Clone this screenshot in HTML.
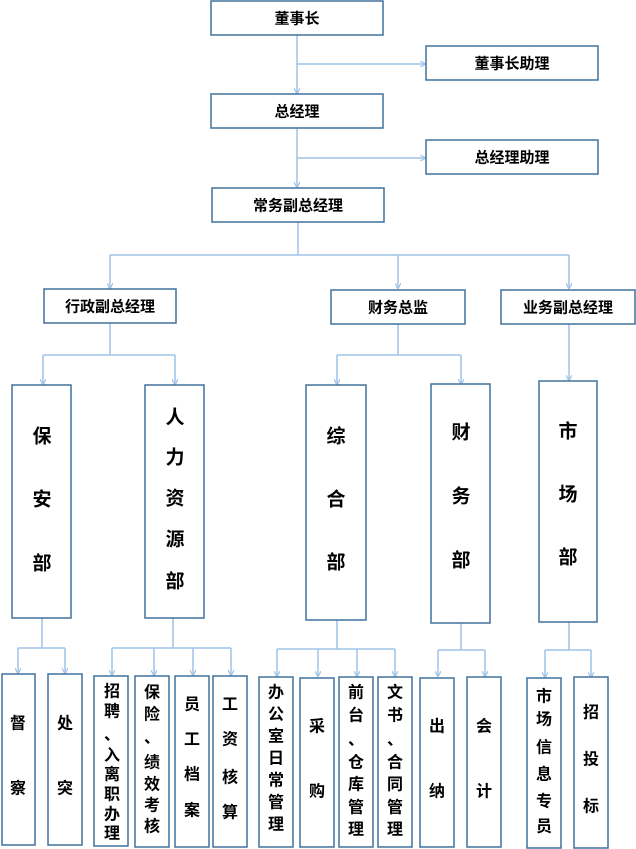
<!DOCTYPE html>
<html><head><meta charset="utf-8"><style>
html,body{margin:0;padding:0;background:#fff;width:636px;height:849px;overflow:hidden}
svg{display:block}
.b{fill:#fff;stroke:#41719c;stroke-width:1.5}
.l{stroke:#9dc3e6;stroke-width:1.5;fill:none}
.a{fill:#9dc3e6}
text{font-family:"Liberation Sans","Noto Sans CJK SC",sans-serif;font-weight:bold;fill:#000;text-anchor:middle;dominant-baseline:central}
.t{font-size:15px}
.big{font-size:19px}
.s{font-size:16px}
</style></head><body>
<svg width="636" height="849" viewBox="0 0 636 849">
<defs><marker id="m" markerWidth="6" markerHeight="6" refX="5" refY="3" orient="auto" markerUnits="userSpaceOnUse"><path d="M0,0 L6,3 L0,6" fill="none" stroke="#9dc3e6" stroke-width="1.2"/></marker></defs>
<!-- connectors -->
<g class="l">
<path d="M297,35 V93" marker-end="url(#m)"/>
<path d="M297,64 H425" marker-end="url(#m)"/>
<path d="M297,128 V187" marker-end="url(#m)"/>
<path d="M297,158 H425" marker-end="url(#m)"/>
<path d="M298,222 V255"/>
<path d="M110,255 H569"/>
<path d="M110,255 V288" marker-end="url(#m)"/>
<path d="M398,255 V288" marker-end="url(#m)"/>
<path d="M569,255 V288" marker-end="url(#m)"/>
<path d="M110,323 V355"/><path d="M43,355 H175"/>
<path d="M43,355 V384" marker-end="url(#m)"/><path d="M175,355 V384" marker-end="url(#m)"/>
<path d="M398,323 V355"/><path d="M337,355 H461"/>
<path d="M337,355 V384" marker-end="url(#m)"/><path d="M461,355 V384" marker-end="url(#m)"/>
<path d="M569,323 V380" marker-end="url(#m)"/>
<path d="M42,618 V648"/><path d="M18,648 H65"/>
<path d="M18,648 V673" marker-end="url(#m)"/><path d="M65,648 V673" marker-end="url(#m)"/>
<path d="M173,618 V648"/><path d="M112,648 H231"/>
<path d="M112,648 V675" marker-end="url(#m)"/><path d="M154,648 V675" marker-end="url(#m)"/>
<path d="M193,648 V675" marker-end="url(#m)"/><path d="M231,648 V675" marker-end="url(#m)"/>
<path d="M337,620 V649"/><path d="M277,649 H395"/>
<path d="M277,649 V676" marker-end="url(#m)"/><path d="M318,649 V676" marker-end="url(#m)"/>
<path d="M357,649 V676" marker-end="url(#m)"/><path d="M395,649 V676" marker-end="url(#m)"/>
<path d="M461,623 V650"/><path d="M438,650 H485"/>
<path d="M438,650 V676" marker-end="url(#m)"/><path d="M485,650 V676" marker-end="url(#m)"/>
<path d="M569,622 V650"/><path d="M545,650 H591"/>
<path d="M545,650 V677" marker-end="url(#m)"/><path d="M591,650 V677" marker-end="url(#m)"/>
</g>
<!-- top boxes -->
<rect class="b" x="211" y="1" width="172" height="34"/><text class="t" x="297" y="19">董事长</text>
<rect class="b" x="426" y="46" width="172" height="34"/><text class="t" x="512" y="64">董事长助理</text>
<rect class="b" x="211" y="94" width="172" height="34"/><text class="t" x="297" y="112">总经理</text>
<rect class="b" x="426" y="140" width="172" height="34"/><text class="t" x="512" y="158">总经理助理</text>
<rect class="b" x="212" y="188" width="172" height="34"/><text class="t" x="298" y="206">常务副总经理</text>
<rect class="b" x="44" y="289" width="132" height="34"/><text class="t" x="110" y="307">行政副总经理</text>
<rect class="b" x="331" y="290" width="134" height="34"/><text class="t" x="398" y="308">财务总监</text>
<rect class="b" x="501" y="290" width="134" height="34"/><text class="t" x="568" y="308">业务副总经理</text>
<!-- level 3 -->
<rect class="b" x="12" y="385" width="59" height="233"/>
<text class="big" x="42" y="437">保</text><text class="big" x="42" y="500">安</text><text class="big" x="42" y="564">部</text>
<rect class="b" x="145" y="385" width="59" height="233"/>
<text class="big" x="175" y="418">人</text><text class="big" x="175" y="458">力</text><text class="big" x="175" y="499">资</text><text class="big" x="175" y="540">源</text><text class="big" x="175" y="582">部</text>
<rect class="b" x="306" y="385" width="60" height="235"/>
<text class="big" x="336" y="437">综</text><text class="big" x="336" y="500">合</text><text class="big" x="336" y="563">部</text>
<rect class="b" x="431" y="384" width="59" height="239"/>
<text class="big" x="461" y="433">财</text><text class="big" x="461" y="497">务</text><text class="big" x="461" y="561">部</text>
<rect class="b" x="539" y="381" width="58" height="241"/>
<text class="big" x="568" y="432">市</text><text class="big" x="568" y="495">场</text><text class="big" x="568" y="558">部</text>
<!-- level 4 -->
<rect class="b" x="2" y="674" width="33" height="171"/><text class="s" x="18" y="724">督</text><text class="s" x="18" y="789">察</text>
<rect class="b" x="48" y="674" width="34" height="171"/><text class="s" x="65" y="724">处</text><text class="s" x="65" y="789">突</text>
<rect class="b" x="94" y="676" width="34" height="170"/>
<g class="s"><text x="112" y="692">招</text><text x="112" y="712">聘</text><text x="112" y="735">、</text><text x="112" y="756">入</text><text x="112" y="775">离</text><text x="112" y="795">职</text><text x="112" y="815">办</text><text x="112" y="834">理</text></g>
<rect class="b" x="135" y="676" width="34" height="171"/>
<g class="s"><text x="152" y="693">保</text><text x="152" y="715">险</text><text x="152" y="738">、</text><text x="152" y="763">绩</text><text x="152" y="785">效</text><text x="152" y="806">考</text><text x="152" y="827">核</text></g>
<rect class="b" x="175" y="676" width="34" height="171"/>
<g class="s"><text x="192" y="705">员</text><text x="192" y="740">工</text><text x="192" y="775">档</text><text x="192" y="811">案</text></g>
<rect class="b" x="213" y="676" width="34" height="171"/>
<g class="s"><text x="230" y="705">工</text><text x="230" y="740">资</text><text x="230" y="778">核</text><text x="230" y="813">算</text></g>
<rect class="b" x="259" y="677" width="34" height="170"/>
<g class="s"><text x="276" y="693">办</text><text x="276" y="715">公</text><text x="276" y="737">室</text><text x="276" y="759">日</text><text x="276" y="781">常</text><text x="276" y="803">管</text><text x="276" y="825">理</text></g>
<rect class="b" x="300" y="678" width="34" height="169"/>
<g class="s"><text x="317" y="727">采</text><text x="317" y="792">购</text></g>
<rect class="b" x="339" y="677" width="34" height="170"/>
<g class="s"><text x="356" y="693">前</text><text x="356" y="716">台</text><text x="356" y="740">、</text><text x="356" y="763">仓</text><text x="356" y="785">库</text><text x="356" y="808">管</text><text x="356" y="830">理</text></g>
<rect class="b" x="378" y="677" width="34" height="170"/>
<g class="s"><text x="395" y="693">文</text><text x="395" y="716">书</text><text x="395" y="740">、</text><text x="395" y="763">合</text><text x="395" y="785">同</text><text x="395" y="808">管</text><text x="395" y="830">理</text></g>
<rect class="b" x="420" y="678" width="34" height="169"/>
<g class="s"><text x="437" y="727">出</text><text x="437" y="792">纳</text></g>
<rect class="b" x="467" y="677" width="34" height="170"/>
<g class="s"><text x="484" y="727">会</text><text x="484" y="792">计</text></g>
<rect class="b" x="527" y="678" width="34" height="170"/>
<g class="s"><text x="544" y="697">市</text><text x="544" y="720">场</text><text x="544" y="748">信</text><text x="544" y="775">息</text><text x="544" y="802">专</text><text x="544" y="827">员</text></g>
<rect class="b" x="574" y="677" width="34" height="171"/>
<g class="s"><text x="591" y="713">招</text><text x="591" y="760">投</text><text x="591" y="807">标</text></g>
</svg>
</body></html>
